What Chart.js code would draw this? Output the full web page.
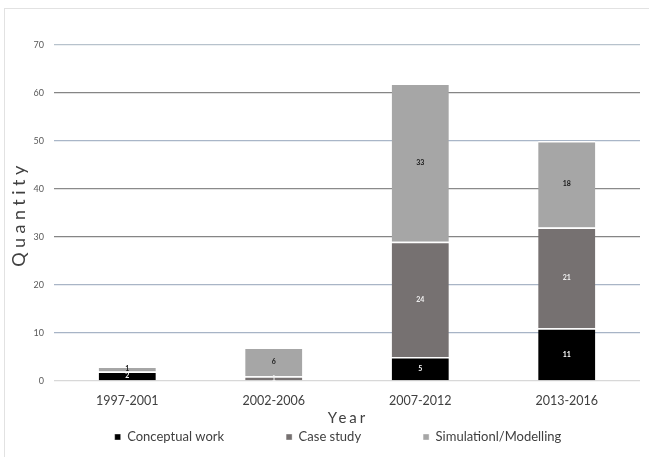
<!DOCTYPE html>
<html>
<head>
<meta charset="utf-8">
<script src="https://cdn.jsdelivr.net/npm/chart.js@4.4.0/dist/chart.umd.min.js"></script>
<style>
  html, body { margin: 0; padding: 0; background: #fff; }
  #wrap { position: relative; width: 649px; height: 457px; }
  #frame { position: absolute; left: 4px; top: 8px; right: 0; bottom: 0;
           border-top: 1px solid #e2e2e2; border-left: 1px solid #e2e2e2; pointer-events: none; }
</style>
</head>
<body>
<div id="wrap">
  <canvas id="chart" width="649" height="457"></canvas>
  <div id="frame"></div>
</div>
<script>
// Categories and series
const years = ['1997-2001', '2002-2006', '2007-2012', '2013-2016'];
const conceptualWork = [2, 0, 5, 11];
const caseStudy = [0, 1, 24, 21];
const simulationModelling = [1, 6, 33, 18];
const yTicks = [0, 10, 20, 30, 40, 50, 60, 70];

const FONT = 'Lato, "Open Sans", sans-serif';
const LEGEND_GAP = 62;     // horizontal gap between legend items
const LEGEND_Y = 437;      // centre line of the legend text
const LEGEND_SHIFT = 18;   // legend sits a bit right of centre

// Scanned gridlines alternate between grey and bluish grey
const gridColors = ['#d8d8d8', '#a7b4c6', '#a9b5c6', '#858585', '#8a8a8a', '#a9b6c8', '#858585', '#b7c2cc'];

// Small numbers in the middle of each segment
const segmentLabels = {
  id: 'segmentLabels',
  afterDatasetsDraw(chart) {
    const ctx = chart.ctx;
    ctx.save();
    ctx.font = 'bold 7px ' + FONT;
    ctx.textAlign = 'center';
    ctx.textBaseline = 'middle';
    chart.data.datasets.forEach((ds, i) => {
      chart.getDatasetMeta(i).data.forEach((bar, j) => {
        const v = ds.data[j];
        if (!v) return;
        ctx.fillStyle = ds.labelColor;
        ctx.fillText(String(v), bar.x, (bar.y + bar.base) / 2);
      });
    });
    ctx.restore();
  }
};

// Letter-spaced axis titles
const axisTitles = {
  id: 'axisTitles',
  afterDraw(chart) {
    const ctx = chart.ctx;
    const area = chart.chartArea;
    ctx.save();
    ctx.fillStyle = '#404040';
    ctx.textAlign = 'center';
    ctx.textBaseline = 'middle';
    ctx.letterSpacing = '3px';
    ctx.font = '15px ' + FONT;
    ctx.fillText('Year', (area.left + area.right) / 2 + 1, 418);
    ctx.font = '18px ' + FONT;
    ctx.letterSpacing = '4.5px';
    ctx.translate(19, 214);
    ctx.rotate(-Math.PI / 2);
    ctx.fillText('Quantity', 0, 0);
    ctx.restore();
  }
};

// Legend: wide horizontal spacing but a short box; box moved while drawing
const legendTweak = {
  id: 'legendTweak',
  afterInit(chart) {
    const legend = chart.legend;
    const fit = legend.fit.bind(legend);
    const draw = legend.draw.bind(legend);
    legend.fit = function () { fit(); this.height = 18; };
    legend.draw = function () {
      const box = { top: this.top, bottom: this.bottom, left: this.left, right: this.right };
      const size = this.options.labels.font.size;
      this.top = LEGEND_Y - LEGEND_GAP - size / 2;
      this.bottom = chart.height;
      this.left += LEGEND_SHIFT;
      this.right += LEGEND_SHIFT;
      draw();
      Object.assign(this, box);
    };
  }
};

function makeSet(label, data, color, labelColor) {
  return {
    label: label,
    data: data,
    backgroundColor: color,
    borderColor: '#ffffff',
    borderWidth: { top: 1.5, bottom: 0, left: 0, right: 0 },
    borderSkipped: false,
    labelColor: labelColor,
    barPercentage: 0.39,
    categoryPercentage: 1.0
  };
}

new Chart(document.getElementById('chart'), {
  type: 'bar',
  data: {
    labels: years,
    datasets: [
      makeSet('Conceptual work', conceptualWork, '#000000', '#ffffff'),
      makeSet('Case study', caseStudy, '#767171', '#f2f2f2'),
      makeSet('Simulationl/Modelling', simulationModelling, '#a6a6a6', '#1a1a1a')
    ]
  },
  options: {
    responsive: false,
    animation: false,
    layout: { padding: { left: 0, right: 9, top: 45, bottom: 11 } },
    plugins: {
      tooltip: { enabled: false },
      legend: {
        position: 'bottom',
        labels: {
          boxWidth: 6,
          boxHeight: 6,
          padding: LEGEND_GAP,
          color: '#404040',
          font: { family: FONT, size: 13 }
        }
      }
    },
    scales: {
      x: {
        stacked: true,
        grid: { display: false },
        border: { display: false },
        ticks: { color: '#404040', font: { family: FONT, size: 12.5 }, padding: 4 },
        afterFit(scale) { scale.height = 47; }
      },
      y: {
        stacked: true,
        min: yTicks[0],
        max: yTicks[yTicks.length - 1],
        afterBuildTicks(scale) { scale.ticks = yTicks.map(v => ({ value: v })); },
        grid: {
          color: ctx => gridColors[ctx.index] || '#999',
          lineWidth: 1.3,
          drawTicks: false
        },
        border: { display: false },
        ticks: { color: '#595959', font: { family: FONT, size: 9 }, padding: 10 },
        afterFit(scale) { scale.width = 54; }
      }
    }
  },
  plugins: [segmentLabels, axisTitles, legendTweak]
});
</script>
</body>
</html>
